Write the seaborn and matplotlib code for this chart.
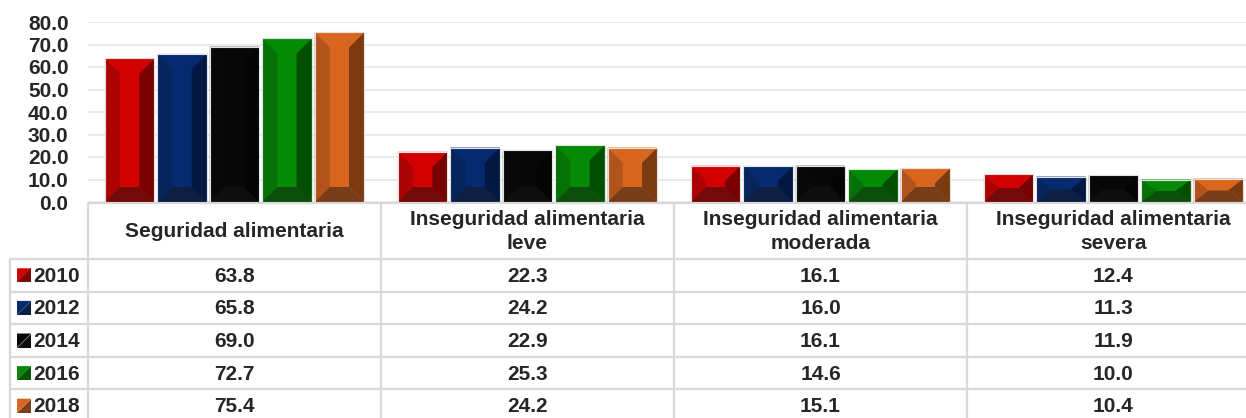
import numpy as np
import pandas as pd
import matplotlib
matplotlib.use("Agg")
import matplotlib.pyplot as plt
from matplotlib.patches import Polygon
from matplotlib.colors import to_rgb
import seaborn as sns

categories = ["Seguridad alimentaria",
              "Inseguridad alimentaria\nleve",
              "Inseguridad alimentaria\nmoderada",
              "Inseguridad alimentaria\nsevera"]
years = ["2010", "2012", "2014", "2016", "2018"]
v2010 = [63.8, 22.3, 16.1, 12.4]
v2012 = [65.8, 24.2, 16.0, 11.3]
v2014 = [69.0, 22.9, 16.1, 11.9]
v2016 = [72.7, 25.3, 14.6, 10.0]
v2018 = [75.4, 24.2, 15.1, 10.4]
yticks = np.arange(0, 90, 10)
colors = ["#D20000", "#062A70", "#070707", "#048A04", "#D9661F"]

values = [v2010, v2012, v2014, v2016, v2018]
rows = []
for yr, vals in zip(years, values):
    for cat, v in zip(categories, vals):
        rows.append({"cat": cat, "year": yr, "value": v})
df = pd.DataFrame(rows)

W, H = 1246, 418
sns.set_style("white")
plt.rcParams["font.family"] = ["Liberation Sans", "DejaVu Sans"]
plt.rcParams["font.weight"] = "bold"

fig = plt.figure(figsize=(W / 100, H / 100), dpi=100)

# table layout in pixels
col_w = 293
col_x = [88 + i * col_w for i in range(5)]
y_axis0 = 202
head_bot = 259
row_h = 32.6
label_x = 10

ax = fig.add_axes([col_x[0] / W, (H - y_axis0) / H, (col_x[-1] - col_x[0]) / W, 180 / H])
sns.barplot(data=df, x="cat", y="value", hue="year", palette=colors,
            width=0.895, gap=0.06, legend=False, ax=ax, saturation=1,
            edgecolor="#e4e4e4", linewidth=0.8, zorder=3)
ax.set_xlim(-0.5, 3.5)
ax.set_ylim(0, 80)
ax.set_yticks(yticks)
ax.set_yticklabels(["%.1f" % t for t in yticks], fontsize=15, fontweight="bold")
ax.tick_params(axis="y", length=0, pad=14)
ax.set_xticks([])
ax.set_xlabel("")
ax.set_ylabel("")
ax.yaxis.grid(True, color="#e6e6e6", linewidth=1.2)
ax.set_axisbelow(True)
sns.despine(ax=ax, left=True, bottom=True)
ax.patch.set_alpha(0)

# bevel effect on each bar
fig.canvas.draw()
bb = ax.get_window_extent()
px_x = (ax.get_xlim()[1] - ax.get_xlim()[0]) / bb.width
px_y = (ax.get_ylim()[1] - ax.get_ylim()[0]) / bb.height


def shade(c, f, add=0.0):
    r, g, b = to_rgb(c)
    return tuple(min(1, v * f + add) for v in (r, g, b))


for cont, c in zip(ax.containers, colors):
    for p in cont.patches:
        x0, w, h = p.get_x(), p.get_width(), p.get_height()
        x1, y0, y1 = x0 + w, 0, h
        bx = 15 * px_x
        by = min(15 * px_y, h / 2)
        parts = [
            ([(x0, y0), (x0 + bx, y0 + by), (x0 + bx, y1 - by), (x0, y1)], shade(c, 0.8, 0.01)),
            ([(x1, y0), (x1 - bx, y0 + by), (x1 - bx, y1 - by), (x1, y1)], shade(c, 0.57)),
            ([(x0, y0), (x1, y0), (x1 - bx, y0 + by), (x0 + bx, y0 + by)], shade(c, 0.5, 0.04)),
            ([(x0, y1), (x1, y1), (x1 - bx, y1 - by), (x0 + bx, y1 - by)], shade(c, 1.0)),
        ]
        for pts, fc in parts:
            ax.add_patch(Polygon(pts, closed=True, facecolor=fc, edgecolor="none", zorder=4))
        ax.add_patch(Polygon([(x0, y0), (x1, y0), (x1, y1), (x0, y1)], closed=True,
                             facecolor="none", edgecolor="#e2e2e2", linewidth=0.8, zorder=5))

# data table below the bars
tax = fig.add_axes([0, 0, 1, 1], zorder=-1)
tax.set_xlim(0, W)
tax.set_ylim(H, 0)
tax.axis("off")
lc, lw = "#d9d9d9", 1.6
bottom = H + 10
row_edges = [head_bot + i * row_h for i in range(6)]

tax.plot([col_x[0], col_x[-1]], [y_axis0 + 1, y_axis0 + 1], color=lc, lw=lw)
for x in col_x:
    tax.plot([x, x], [y_axis0 + 1, bottom], color=lc, lw=lw)
tax.plot([label_x, label_x], [head_bot, bottom], color=lc, lw=lw)
for y in row_edges:
    tax.plot([label_x, col_x[-1]], [y, y], color=lc, lw=lw)

for j, cat in enumerate(categories):
    xc = (col_x[j] + col_x[j + 1]) / 2
    tax.text(xc, (y_axis0 + head_bot) / 2 + 1, cat, ha="center", va="center",
             fontsize=15, fontweight="bold", linespacing=1.3)

for i, (yr, vals, c) in enumerate(zip(years, values, colors)):
    yc = head_bot + (i + 0.5) * row_h
    k = 14
    kx, ky = 17, yc - k / 2
    tax.add_patch(Polygon([(kx, ky), (kx + k, ky), (kx, ky + k)], closed=True,
                          facecolor=shade(c, 1.0), edgecolor="none"))
    tax.add_patch(Polygon([(kx + k, ky), (kx + k, ky + k), (kx, ky + k)], closed=True,
                          facecolor=shade(c, 0.55, 0.03), edgecolor="none"))
    tax.text(kx + k + 2, yc + 1, yr, ha="left", va="center", fontsize=15, fontweight="bold")
    for j, v in enumerate(vals):
        xc = (col_x[j] + col_x[j + 1]) / 2
        tax.text(xc, yc + 1, "%.1f" % v, ha="center", va="center",
                 fontsize=15, fontweight="bold")

fig.savefig("out.png", dpi=100)
